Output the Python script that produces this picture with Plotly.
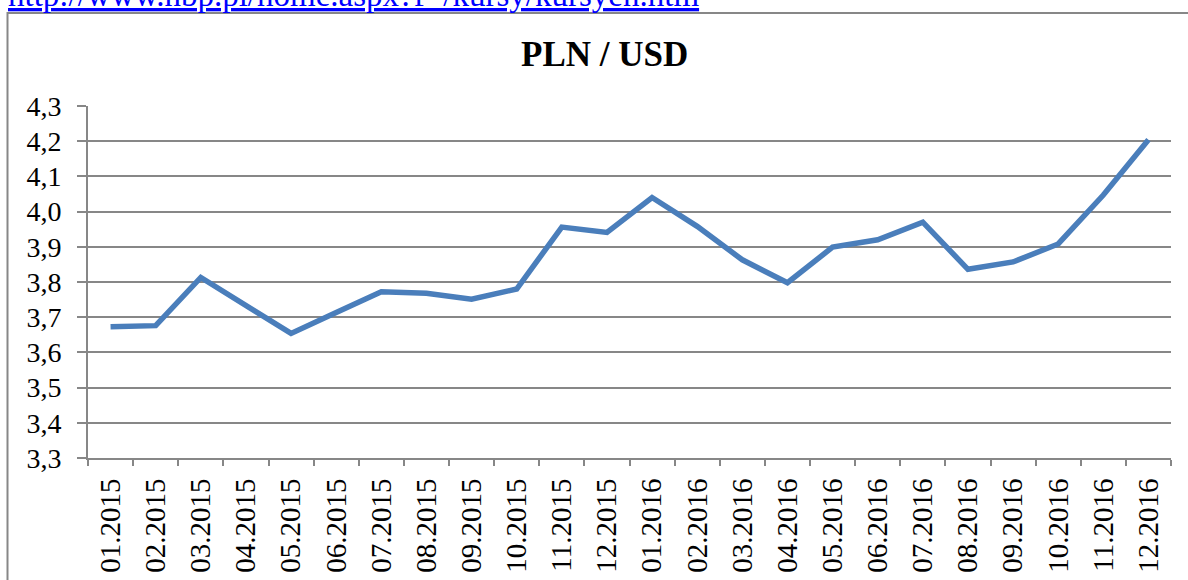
import plotly.graph_objects as go

months = ["01.2015", "02.2015", "03.2015", "04.2015", "05.2015", "06.2015",
          "07.2015", "08.2015", "09.2015", "10.2015", "11.2015", "12.2015",
          "01.2016", "02.2016", "03.2016", "04.2016", "05.2016", "06.2016",
          "07.2016", "08.2016", "09.2016", "10.2016", "11.2016", "12.2016"]
pln_usd = [3.673, 3.676, 3.813, 3.734, 3.654, 3.713,
           3.772, 3.768, 3.751, 3.780, 3.956, 3.941,
           4.040, 3.958, 3.863, 3.798, 3.899, 3.920,
           3.970, 3.836, 3.857, 3.908, 4.047, 4.204]
y_ticks = [3.3, 3.4, 3.5, 3.6, 3.7, 3.8, 3.9, 4.0, 4.1, 4.2, 4.3]
y_tick_text = ["3,3", "3,4", "3,5", "3,6", "3,7", "3,8", "3,9", "4,0", "4,1", "4,2", "4,3"]
title_text = "PLN / USD"
source_url = "http://www.nbp.pl/home.aspx?f=/kursy/kursyen.htm"

W, H = 1188, 580
PL, PR, PT, PB = 88, 1171, 106, 458   # plot area in page pixels
L, T = PL, PT
R = W - PR
B = H - PB
pw, ph = PR - PL, PB - PT

def px_x(p):
    return (p - PL) / pw

def px_y(p):
    return 1 + (PT - p) / ph

grey = "#878787"
font_family = "Liberation Serif, Times New Roman, serif"

fig = go.Figure()
fig.add_trace(go.Scatter(
    x=months, y=pln_usd, mode="lines",
    line=dict(color="#4a7ebb", width=5.5),
    hoverinfo="x+y", showlegend=False,
))

fig.update_layout(
    width=W, height=H,
    margin=dict(l=L, r=R, t=T, b=B, autoexpand=False),
    paper_bgcolor="white", plot_bgcolor="white",
    font=dict(family=font_family, color="black", size=28),
    xaxis=dict(
        type="category", tickmode="array", tickvals=months, ticktext=months,
        tickangle=-90, tickson="boundaries", ticks="outside", ticklen=6,
        tickcolor=grey, tickwidth=1.5, showline=True, linecolor=grey, linewidth=2,
        showgrid=False, zeroline=False, ticklabelstandoff=7,
        tickfont=dict(size=29, family=font_family, color="black"),
        range=[-0.5, len(months) - 0.5],
    ),
    yaxis=dict(
        range=[3.3, 4.3], tickmode="array", tickvals=y_ticks, ticktext=y_tick_text,
        ticks="outside", ticklen=9, tickcolor=grey, tickwidth=2,
        showline=True, linecolor=grey, linewidth=2,
        showgrid=True, gridcolor=grey, gridwidth=2, zeroline=False,
        ticklabelstandoff=10,
        tickfont=dict(size=28, family=font_family, color="black"),
    ),
    annotations=[
        dict(text="<b>" + title_text + "</b>", xref="paper", yref="paper",
             x=px_x(604), y=px_y(55), xanchor="center", yanchor="middle",
             showarrow=False, font=dict(size=35, family=font_family, color="black")),
        dict(text="<span style='text-decoration:underline'>" + source_url + "</span>",
             xref="paper", yref="paper",
             x=px_x(6), y=px_y(-5), xanchor="left", yanchor="middle",
             showarrow=False, font=dict(size=33, family=font_family, color="#0000ff")),
    ],
    shapes=[
        dict(type="rect", xref="paper", yref="paper",
             x0=px_x(7.5), x1=px_x(1200), y0=px_y(600), y1=px_y(13),
             line=dict(color=grey, width=2), fillcolor="rgba(0,0,0,0)", layer="below"),
    ],
)

fig.write_html("out.html", config={"displayModeBar": False},
               post_script="document.body.style.margin='0';document.body.style.overflow='hidden';")
